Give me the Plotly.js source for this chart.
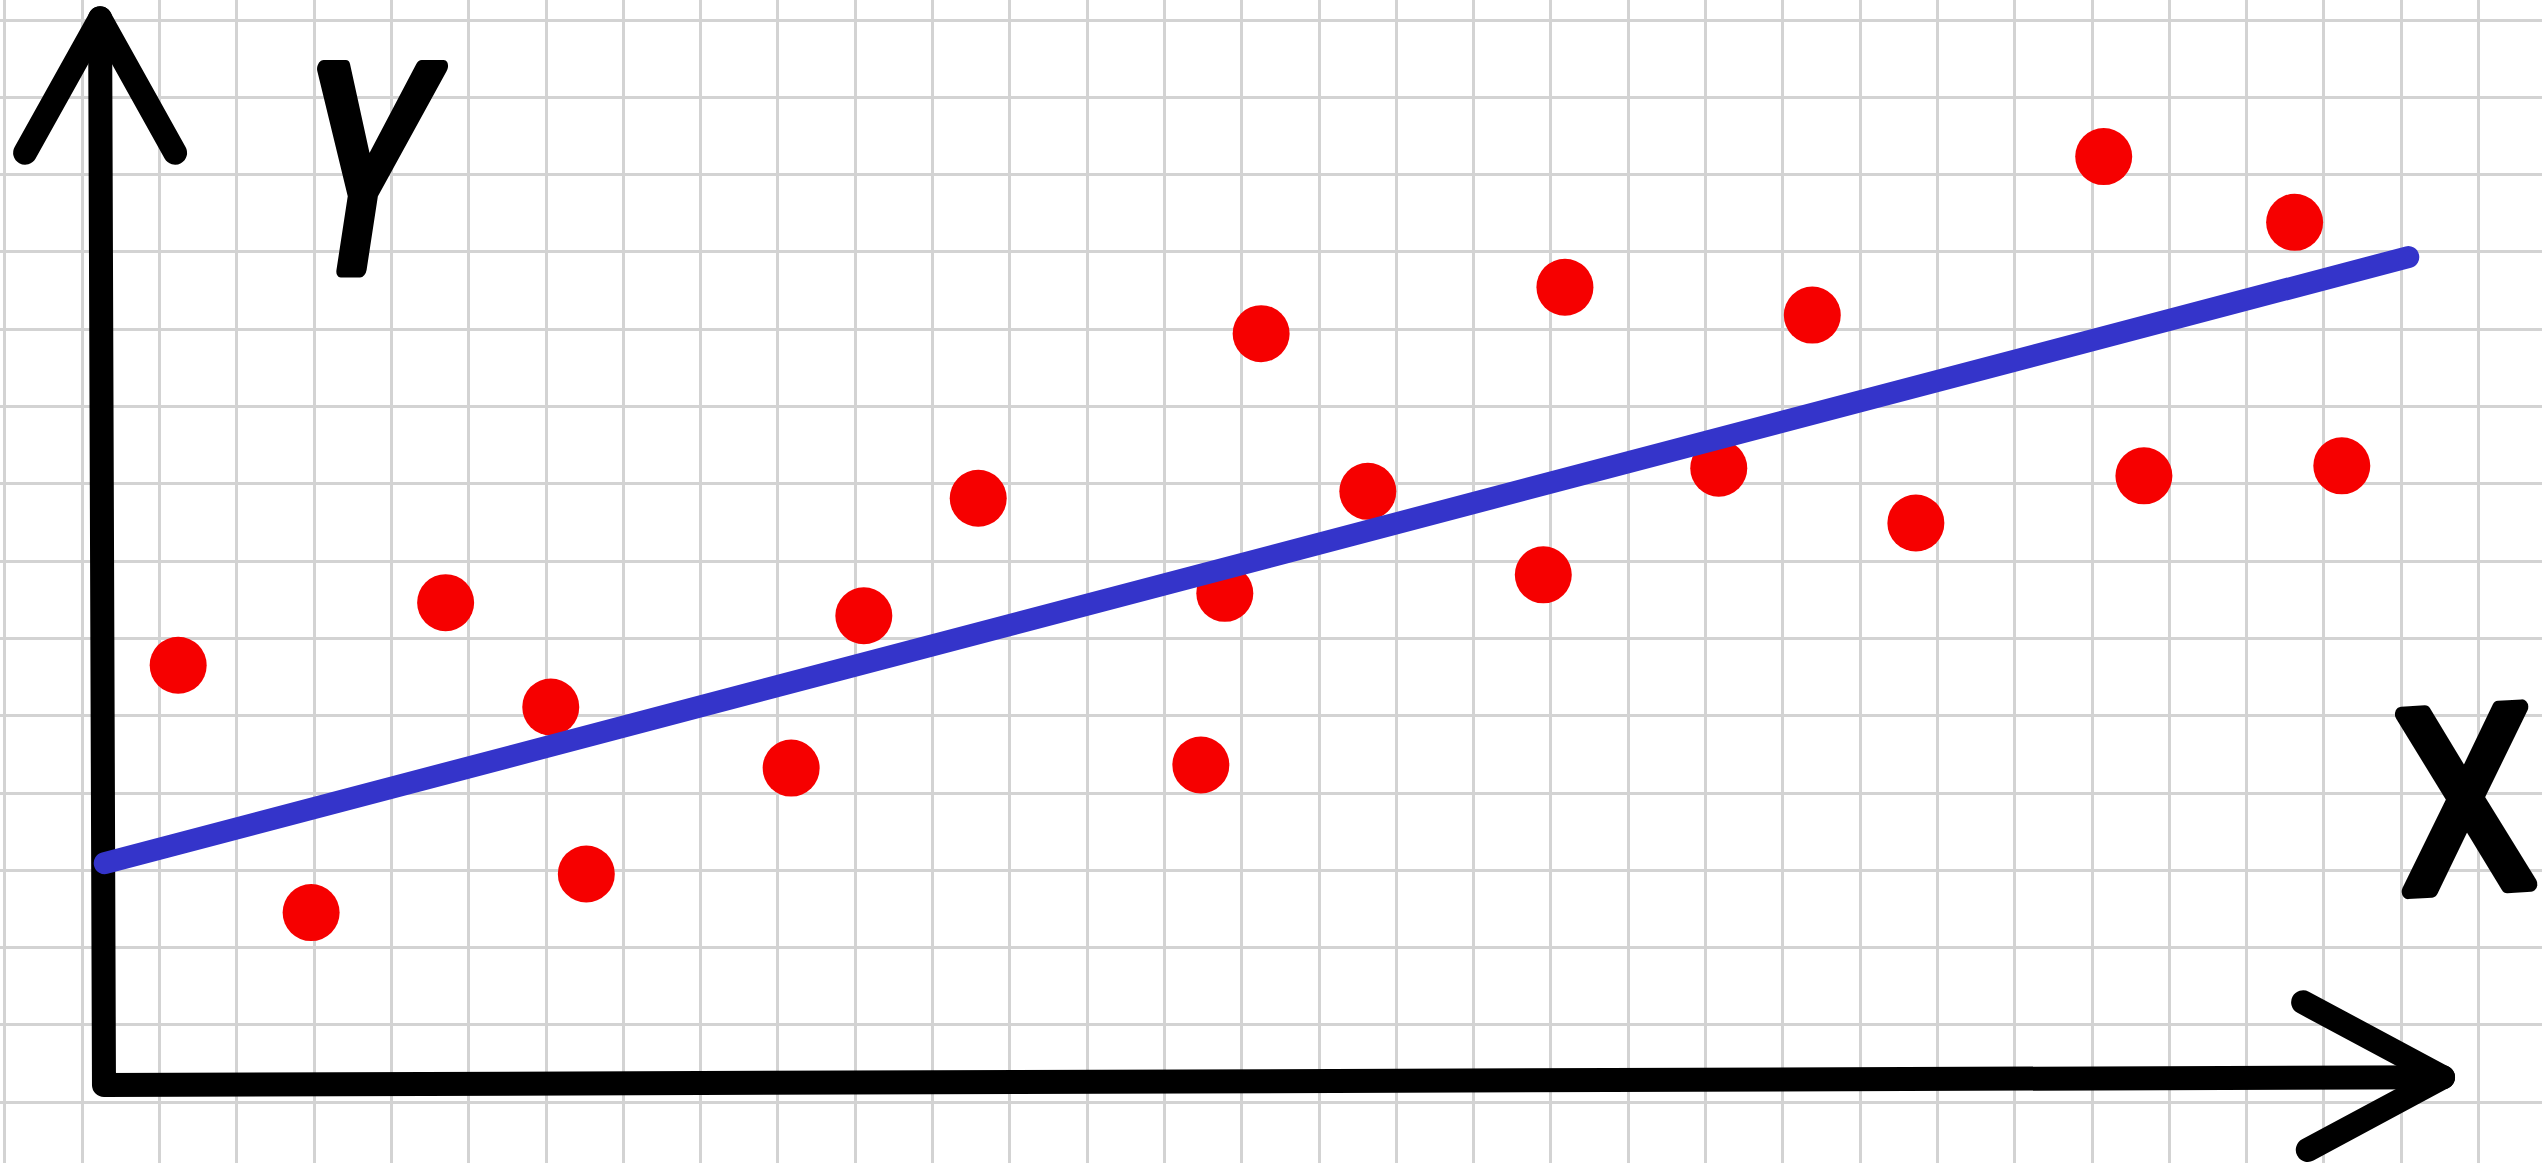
<!DOCTYPE html>
<html>
<head>
<meta charset="utf-8">
<script src="https://cdn.plot.ly/plotly-3.0.1.min.js"></script>
<style>
  html, body { margin: 0; padding: 0; background: #fff; overflow: hidden; }
  #chart { width: 2542px; height: 1163px; }
  .scatterlayer .js-line { stroke-linecap: round !important; stroke-linejoin: round !important; }
  .shapelayer path { stroke-linecap: round !important; stroke-linejoin: round !important; }
  .annotation-text { stroke: #000; stroke-width: 15px; stroke-linejoin: round; stroke-linecap: round; paint-order: stroke; }
  .annotation[data-index="0"] .annotation-text { transform-box: fill-box; transform-origin: center; transform: scaleX(0.72) skewX(-12deg); }
  .annotation[data-index="1"] .annotation-text { transform-box: fill-box; transform-origin: center; transform: scaleX(0.86) rotate(-3deg); }
</style>
</head>
<body>
<div id="chart"></div>
<script>
// ---- data (grid units, origin at the drawn axes corner) ----
const pointX = [0.96, 2.68, 4.42, 5.78, 6.24, 8.89, 9.83, 11.31, 14.19, 14.50, 14.97,
                16.35, 18.62, 18.90, 20.89, 22.10, 23.44, 25.87, 26.39, 28.34, 28.95];
const pointY = [5.43, 2.23, 6.24, 4.89, 2.73, 4.10, 6.07, 7.59, 4.14, 6.36, 9.72,
                7.68, 6.60, 10.32, 7.98, 9.96, 7.27, 12.01, 7.88, 11.16, 8.01];
const fitX = [0.01, 29.81];
const fitY = [2.87, 10.71];
const axisLabels = ["Y", "X"];

// ---- layout geometry (decoration) ----
const W = 2542, H = 1163;
const xRange = [-1.345, 31.54];
const yRange = [-1.009, 14.036];
const yArrow = "M -1.02,12.06 L -0.05,13.80 L 0.92,12.06";
const axesPath = "M -0.05,13.80 L 0.0,0.0 L 30.26,0.10";
const xArrow = "M 28.45,1.07 L 30.26,0.10 L 28.51,-0.84";

const traces = [
  {
    x: pointX, y: pointY, type: 'scatter', mode: 'markers',
    marker: { size: 57, color: 'rgb(246,0,0)', line: { width: 0 } },
    hoverinfo: 'skip', showlegend: false
  },
  {
    x: fitX, y: fitY, type: 'scatter', mode: 'lines',
    line: { color: 'rgb(52,52,202)', width: 22 },
    hoverinfo: 'skip', showlegend: false
  }
];

const axisCommon = {
  showgrid: true, gridcolor: '#d3d3d3', gridwidth: 3, dtick: 1,
  zeroline: false, showline: false, showticklabels: false, ticks: '',
  fixedrange: true
};

const layout = {
  width: W, height: H,
  margin: { l: 0, r: 0, t: 0, b: 0, pad: 0 },
  paper_bgcolor: '#ffffff', plot_bgcolor: '#ffffff',
  xaxis: Object.assign({}, axisCommon, { range: xRange, tick0: -1.281 }),
  yaxis: Object.assign({}, axisCommon, { range: yRange, tick0: -0.223 }),
  showlegend: false,
  shapes: [
    { type: 'path', path: axesPath, xref: 'x', yref: 'y', layer: 'between', line: { color: '#000', width: 24 } },
    { type: 'path', path: yArrow, xref: 'x', yref: 'y', layer: 'between', line: { color: '#000', width: 24 } },
    { type: 'path', path: xArrow, xref: 'x', yref: 'y', layer: 'between', line: { color: '#000', width: 24 } }
  ],
  annotations: [
    { text: axisLabels[0], x: 3.40, y: 11.80, xref: 'x', yref: 'y', showarrow: false,
      xanchor: 'center', yanchor: 'middle',
      font: { family: '"Liberation Sans Narrow", Roboto, sans-serif', size: 285, color: '#000' } },
    { text: axisLabels[1], x: 30.55, y: 3.66, xref: 'x', yref: 'y', showarrow: false,
      xanchor: 'center', yanchor: 'middle',
      font: { family: '"Liberation Sans Narrow", Roboto, sans-serif', size: 250, color: '#000' } }
  ]
};

Plotly.newPlot('chart', traces, layout, { displayModeBar: false, staticPlot: true });
</script>
</body>
</html>
